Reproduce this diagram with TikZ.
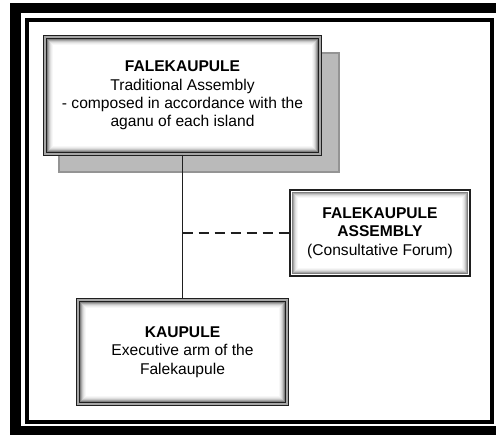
\documentclass[tikz,border=0pt]{standalone}
\usepackage{fontspec}
\setmainfont{Liberation Sans}
\begin{document}
\begin{tikzpicture}[x=1pt,y=-1pt,
  txt/.style={font=\fontsize{15.6}{18.3}\selectfont, align=center, inner sep=0pt},
  glow/.style={path picture={
    \foreach \i/\c in {2.6/50,3.6/35,4.6/22,5.6/13,6.6/7,7.6/3}{
      \draw[black!\c, line width=1pt]
        ([shift={(\i pt,-\i pt)}]path picture bounding box.north west) rectangle
        ([shift={(-\i pt,\i pt)}]path picture bounding box.south east);}
  }},
  dblbox/.style={txt, glow, fill=white, draw=black!88, line width=1.3pt, double=black!35, double distance=1.2pt},
  sglbox/.style={txt, glow, fill=white, draw=black!88, line width=2.4pt},
  shadowbox/.style={fill=black!27, draw=black!42, line width=2pt},
  link/.style={draw=black!88, line width=1.8pt}
]
\useasboundingbox (0,0) rectangle (496,435);
\fill[white] (0,0) rectangle (496,435);
% page borders
\draw[black, line width=10.5pt] (15.5,8) rectangle (510,431);
\draw[black, line width=3.6pt] (27,20) rectangle (492,422);
% shadow of the top box
\path[shadowbox] (59,53) rectangle (339,172);
% boxes
\node[dblbox, minimum width=275pt, minimum height=117pt] (b1) at (182.5,95.5)
  {\textbf{FALEKAUPULE}\\Traditional Assembly\\- composed in accordance with the\\aganu of each island};
\node[sglbox, minimum width=180pt, minimum height=86pt] (b2) at (380,233)
  {\textbf{FALEKAUPULE}\\\textbf{ASSEMBLY}\\(Consultative Forum)};
\node[dblbox, minimum width=209pt, minimum height=104pt] (b3) at (182.5,352)
  {\textbf{KAUPULE}\\Executive arm of the\\Falekaupule};
% connectors
\coordinate (j) at (b1.south |- b2.west);
\draw[link] (b1.south) -- (b3.north);
\draw[link, dash pattern=on 10pt off 6pt] (j) -- (b2.west);
\end{tikzpicture}
\end{document}
